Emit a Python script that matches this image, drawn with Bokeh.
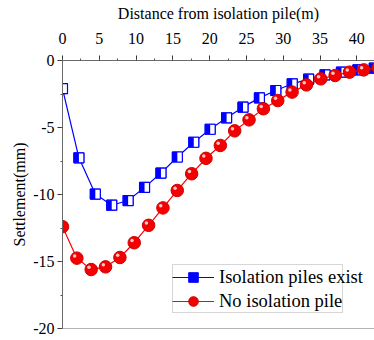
from bokeh.plotting import figure
from bokeh.models import (ColumnDataSource, SingleIntervalTicker, Legend, LegendItem,
                          Span, BoxAnnotation, NumeralTickFormatter)
from bokeh.transform import dodge
from bokeh.embed import file_html
from bokeh.resources import INLINE

# ---- data ----
dist_piles = [0.0, 2.23, 4.46, 6.69, 8.92, 11.15, 13.38, 15.61, 17.84, 20.07,
              22.3, 24.53, 26.76, 28.99, 31.22, 33.45, 35.68, 37.91, 40.14, 42.37]
settle_piles = [-2.1, -7.26, -9.97, -10.8, -10.45, -9.47, -8.4, -7.2, -6.1, -5.13,
                -4.28, -3.48, -2.79, -2.24, -1.74, -1.39, -1.07, -0.87, -0.7, -0.57]

dist_none = [0.0, 1.95, 3.9, 5.85, 7.8, 9.75, 11.7, 13.65, 15.6, 17.55, 19.5,
             21.45, 23.4, 25.35, 27.3, 29.25, 31.2, 33.15, 35.1, 37.05, 39.0, 40.95, 42.9]
settle_none = [-12.4, -14.75, -15.6, -15.4, -14.7, -13.6, -12.3, -11.0, -9.7, -8.45, -7.3,
               -6.34, -5.25, -4.43, -3.6, -2.99, -2.36, -1.82, -1.37, -1.12, -0.87, -0.7, -0.55]

label_piles = "Isolation piles exist"
label_none = "No isolation pile"
x_title = "Distance from isolation pile(m)"
y_title = "Settlement(mm)"

X_END = 42.4
FRAME_W, FRAME_H = 312, 268
FONT = "Liberation Serif"

p = figure(width=374, height=340, x_range=(0, X_END), y_range=(-20, 0),
           x_axis_location="above", output_backend="svg", toolbar_location=None,
           min_border_left=62, min_border_right=0, min_border_top=60, min_border_bottom=12)
p.frame_width = FRAME_W
p.frame_height = FRAME_H
p.outline_line_color = None
p.xgrid.visible = False
p.ygrid.visible = False
p.background_fill_color = "white"
p.border_fill_color = "white"

for ax in (p.xaxis[0], p.yaxis[0]):
    ax.ticker = SingleIntervalTicker(interval=5, num_minor_ticks=2)
    ax.formatter = NumeralTickFormatter(format="0")
    ax.axis_line_color = "#6a6a6a"
    ax.major_tick_line_color = "#333333"
    ax.minor_tick_line_color = "#555555"
    ax.major_tick_in = 0
    ax.major_tick_out = 5
    ax.minor_tick_in = 0
    ax.minor_tick_out = 2
    ax.major_label_text_font = FONT
    ax.major_label_text_font_size = "16px"
    ax.major_label_text_color = "black"
    ax.axis_label_text_font = FONT
    ax.axis_label_text_font_size = "16px"
    ax.axis_label_text_font_style = "normal"
    ax.axis_label_text_color = "black"

p.xaxis.axis_label = x_title
p.xaxis.major_label_standoff = 12
p.xaxis.axis_label_standoff = 8
p.yaxis.axis_label = y_title
p.yaxis.major_label_standoff = 3
p.yaxis.axis_label_standoff = 2

p.add_layout(Span(location=-20, dimension="width", line_color="#6a6a6a", line_width=1))

px_x = FRAME_W / X_END   # pixels per x unit
px_y = FRAME_H / 20.0    # pixels per y unit

src_p = ColumnDataSource(dict(x=dist_piles, y=settle_piles))
src_n = ColumnDataSource(dict(x=dist_none, y=settle_none))

# isolation piles exist (blue, half-filled squares)
bl = p.line("x", "y", source=src_p, line_color="#0000ff", line_width=1.2)
bfull = p.scatter("x", "y", source=src_p, marker="square", size=10,
                  fill_color="#0000ff", line_color="#0000ff", line_width=1)
p.scatter("x", "y", source=src_p, marker="square", size=10,
          fill_color="white", line_color="#0000ff", line_width=1.2)
p.rect(x=dodge("x", -2.5 / px_x, range=p.x_range), y="y", source=src_p,
       width=5, height=10, width_units="screen", height_units="screen",
       fill_color="#0000ff", line_color=None)

# no isolation pile (red spheres)
rl = p.line("x", "y", source=src_n, line_color="#ff0000", line_width=1.2)
rc = p.scatter("x", "y", source=src_n, marker="circle", size=12.5,
               fill_color="#f40000", line_color="#d00000", line_width=1)
p.scatter(x=dodge("x", -2.2 / px_x, range=p.x_range),
          y=dodge("y", 2.2 / px_y, range=p.y_range), source=src_n,
          marker="circle", size=3.5, fill_color="#ffc8c8", line_color=None)

# legend
legend = Legend(items=[LegendItem(label=label_piles, renderers=[bl, bfull]),
                       LegendItem(label=label_none, renderers=[rl, rc])],
                location=(110, 15), orientation="vertical",
                glyph_width=42, glyph_height=24, label_height=24, label_standoff=5,
                spacing=0, padding=0, margin=0,
                label_text_font=FONT, label_text_font_size="18.5px", label_text_color="black",
                border_line_alpha=0, background_fill_alpha=0)
p.add_layout(legend)

# legend frame (drawn narrower than the text, as in the reference)
def xd(px):
    return (px - 62) / px_x
def yd(py):
    return -(py - 60) / px_y
p.add_layout(BoxAnnotation(left=xd(172), right=xd(342), top=yd(264), bottom=yd(312),
                           fill_alpha=0, line_color="#777777", line_width=1))

open("out.html", "w").write(file_html(p, INLINE))
